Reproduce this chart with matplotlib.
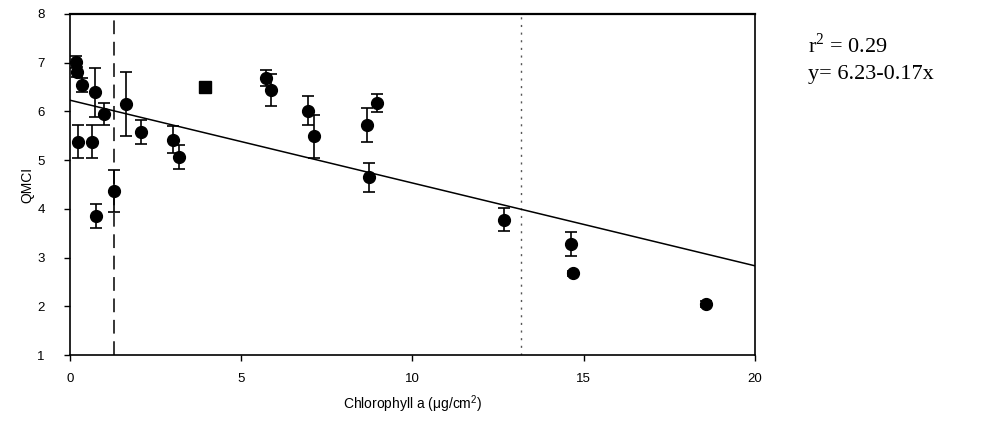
import numpy as np
import matplotlib
matplotlib.use('Agg')
import matplotlib.pyplot as plt

plt.rcParams['font.family'] = ['Liberation Sans', 'DejaVu Sans']

# chlorophyll a (ug/cm2), QMCI mean and error
chl = [0.17, 0.22, 0.35, 0.74, 1.01, 0.25, 0.66, 0.76, 1.30, 1.63,
       2.08, 3.00, 3.20, 5.72, 5.87, 6.96, 7.13, 8.68, 8.98, 8.73,
       12.67, 14.62, 14.70, 18.57]
qmci = [7.01, 6.80, 6.54, 6.39, 5.95, 5.38, 5.38, 3.85, 4.37, 6.15,
        5.57, 5.42, 5.06, 6.68, 6.43, 6.01, 5.49, 5.72, 6.17, 4.65,
        3.78, 3.28, 2.68, 2.04]
err = [0.12, 0.10, 0.14, 0.50, 0.23, 0.33, 0.33, 0.25, 0.43, 0.66,
       0.25, 0.27, 0.24, 0.17, 0.33, 0.30, 0.44, 0.35, 0.19, 0.30,
       0.23, 0.25, 0.05, 0.06]

# single point without error bar
sq_chl = [3.96]
sq_qmci = [6.49]

# regression
intercept = 6.23
slope = -0.17
thresholds = [1.30, 13.17]

fig = plt.figure(figsize=(9.99, 4.34), dpi=100)
ax = fig.add_axes([0.0698, 0.182, 0.686, 0.786])

ax.errorbar(chl, qmci, yerr=err, fmt='o', color='black', ms=8.5,
            elinewidth=1.2, capsize=4.5, capthick=1.2, zorder=3)
ax.plot(sq_chl, sq_qmci, 's', color='black', ms=8, zorder=3)

xs = np.array([0, 20])
ax.plot(xs, intercept + slope * xs, color='black', lw=1.1, zorder=2)

ax.axvline(thresholds[0], color='black', lw=1.1, ls=(0, (9, 5)), zorder=1)
ax.axvline(thresholds[1], color='#555555', lw=1.0, ls=(0, (1.5, 4)), zorder=1)

ax.set_xlim(0, 20)
ax.set_ylim(1, 8)
ax.set_xticks([0, 5, 10, 15, 20])
ax.set_yticks(range(1, 9))
ax.tick_params(direction='out', length=4, width=1, labelsize=9.5)
ax.tick_params(axis='y', pad=14)
ax.tick_params(axis='x', pad=9)
for s in ['left', 'bottom', 'right']:
    ax.spines[s].set_linewidth(1.2)
ax.spines['top'].set_linewidth(1.6)

ax.set_xlabel('Chlorophyll a (\u03bcg/cm$^{\\mathregular{2}}$)', fontsize=10, labelpad=6)
ax.set_ylabel('QMCI', fontsize=10, labelpad=2)

fig.text(0.809, 0.895, 'r$^{\\mathregular{2}}$ = 0.29', fontsize=16,
         family='Liberation Serif', va='center', ha='left')
fig.text(0.809, 0.828, 'y= 6.23-0.17x', fontsize=16, family='Liberation Serif',
         va='center', ha='left')

plt.savefig('out.png', dpi=100)
